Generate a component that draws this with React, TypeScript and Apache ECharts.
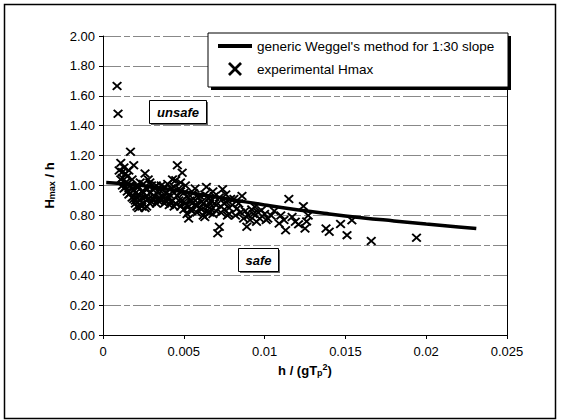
import React, { useEffect, useRef } from "react";
import * as echarts from "echarts";

const xTicks = [0, 0.005, 0.01, 0.015, 0.02, 0.025];
const yTicks = [0, 0.2, 0.4, 0.6, 0.8, 1.0, 1.2, 1.4, 1.6, 1.8, 2.0];

const weggelX = [0.0002, 0.002, 0.004, 0.006, 0.008, 0.010, 0.012, 0.014, 0.016, 0.018, 0.020, 0.022, 0.0231];
const weggelY = [1.02, 1.005, 0.975, 0.94, 0.905, 0.87, 0.838, 0.81, 0.785, 0.763, 0.742, 0.723, 0.712];

const experimentalPoints: [number, number][] = [
  [0.00087, 1.666], [0.00093, 1.48],
  [0.0010, 1.10], [0.0011, 1.15], [0.0012, 1.05], [0.0012, 1.00], [0.0013, 1.12], [0.0013, 0.98],
  [0.0014, 1.08], [0.0014, 1.02], [0.0015, 0.96], [0.0015, 1.06], [0.0016, 1.10], [0.0016, 0.94],
  [0.0017, 1.225], [0.0017, 1.00], [0.0018, 0.92], [0.0018, 1.04], [0.0019, 1.136], [0.0019, 0.97],
  [0.0020, 0.90], [0.0020, 0.88], [0.0021, 1.00], [0.0021, 0.86], [0.0022, 0.94], [0.0022, 0.85],
  [0.0023, 1.02], [0.0023, 0.90], [0.0024, 0.96], [0.0024, 0.86], [0.0025, 0.88], [0.0026, 1.08],
  [0.0026, 0.92], [0.0027, 0.98], [0.0027, 0.86], [0.0028, 1.04], [0.0028, 0.91], [0.0029, 0.95],
  [0.0030, 0.89], [0.0030, 1.00], [0.0031, 0.97], [0.0032, 0.93], [0.0033, 1.00], [0.0033, 0.88],
  [0.0034, 0.96], [0.0035, 0.92], [0.0036, 1.00], [0.0036, 0.90], [0.0037, 0.97], [0.0038, 0.88],
  [0.0039, 0.95], [0.0040, 1.01], [0.0040, 0.92], [0.0041, 0.87], [0.0042, 0.98], [0.0043, 1.04],
  [0.0043, 0.90], [0.0044, 0.95], [0.0045, 1.035], [0.0045, 0.88], [0.0046, 1.136], [0.0046, 0.93],
  [0.0047, 0.98], [0.0048, 0.86], [0.0049, 1.085], [0.0049, 0.90], [0.0050, 0.95], [0.0050, 0.84],
  [0.0051, 1.00], [0.0051, 0.88], [0.0052, 0.81], [0.0052, 0.93], [0.0053, 0.78], [0.0053, 0.86],
  [0.0054, 0.90], [0.0055, 0.83], [0.0056, 0.95], [0.0057, 0.98], [0.0057, 0.87], [0.0058, 0.82],
  [0.0059, 0.92], [0.0060, 0.85], [0.0061, 0.89], [0.0062, 0.80], [0.0063, 0.79], [0.0063, 0.94],
  [0.0064, 0.99], [0.0065, 0.86], [0.0066, 0.82], [0.0067, 0.90], [0.0068, 0.96], [0.0069, 0.88],
  [0.0070, 0.83], [0.0071, 0.68], [0.0072, 0.724], [0.0072, 0.92], [0.0073, 0.86], [0.0074, 0.975],
  [0.0075, 0.84], [0.0076, 0.89], [0.0077, 0.80], [0.0078, 0.81], [0.0080, 0.87], [0.0081, 0.91],
  [0.0083, 0.846], [0.0085, 0.82], [0.0086, 0.93], [0.0087, 0.78], [0.0089, 0.724], [0.0090, 0.80],
  [0.0092, 0.84], [0.0094, 0.857], [0.0095, 0.757], [0.0097, 0.78], [0.0098, 0.835], [0.0100, 0.81],
  [0.0102, 0.78], [0.0104, 0.80], [0.0106, 0.83], [0.0109, 0.746], [0.0110, 0.80], [0.0112, 0.77],
  [0.0113, 0.70], [0.0115, 0.909], [0.0117, 0.79], [0.0119, 0.757], [0.0121, 0.74], [0.0124, 0.862],
  [0.0125, 0.713], [0.0126, 0.76], [0.0127, 0.80], [0.0138, 0.713], [0.0140, 0.69], [0.0147, 0.742],
  [0.0151, 0.668], [0.0154, 0.768], [0.0166, 0.628], [0.0194, 0.65],
  [0.0011, 1.04], [0.0012, 1.09], [0.0014, 0.99], [0.0015, 1.01], [0.0017, 0.95], [0.0018, 0.98],
  [0.0019, 0.91], [0.0020, 0.95], [0.0021, 0.92], [0.0022, 0.99], [0.0023, 0.87], [0.0024, 0.92],
  [0.0025, 0.95], [0.0025, 1.01], [0.0026, 0.85], [0.0027, 0.93], [0.0029, 0.88], [0.0029, 1.02],
  [0.0031, 0.91], [0.0032, 0.99], [0.0034, 0.90], [0.0035, 0.97], [0.0037, 0.92], [0.0038, 0.99],
  [0.0039, 0.90], [0.0041, 0.94], [0.0042, 0.89], [0.0044, 0.99], [0.0044, 0.86], [0.0047, 0.90],
  [0.0048, 0.96], [0.0048, 1.02], [0.0050, 0.89], [0.0052, 0.87], [0.0054, 0.84], [0.0055, 0.88],
  [0.0056, 0.91], [0.0058, 0.87], [0.0060, 0.93], [0.0061, 0.84], [0.0062, 0.88], [0.0064, 0.83],
  [0.0065, 0.91], [0.0066, 0.88], [0.0067, 0.84], [0.0068, 0.81], [0.0069, 0.93], [0.0070, 0.87],
  [0.0073, 0.82], [0.0075, 0.88], [0.0076, 0.94], [0.0078, 0.85], [0.0079, 0.91], [0.0082, 0.80],
  [0.0084, 0.88], [0.0088, 0.83], [0.0091, 0.77], [0.0093, 0.81], [0.0096, 0.82], [0.0101, 0.77],
];

const lineName = "generic Weggel's method for 1:30 slope";
const scatterName = "experimental Hmax";

const FONT = "Arial, 'Liberation Sans', sans-serif";
const CROSS =
  "path://M0,1.4L1.4,0L5,3.6L8.6,0L10,1.4L6.4,5L10,8.6L8.6,10L5,6.4L1.4,10L0,8.6L3.6,5Z";
const BAR = "path://M0,0L34,0L34,4L0,4Z";

export default function App() {
  const ref = useRef<HTMLDivElement>(null);
  useEffect(() => {
    document.body.style.margin = "0";
    const chart = echarts.init(ref.current!, null, { renderer: "svg" });
    const option: any = {
      animation: false,
      backgroundColor: "#fff",
      grid: { left: 103, right: 56, top: 36, bottom: 85 },
      legend: {
        left: 218,
        top: 39,
        orient: "vertical",
        itemGap: 9,
        itemWidth: 34,
        itemHeight: 14,
        padding: 0,
        textStyle: { fontFamily: FONT, fontSize: 13.5, color: "#000", lineHeight: 14 },
        data: [
          { name: lineName, icon: BAR, itemStyle: { color: "#000" } },
          { name: scatterName, icon: CROSS, itemStyle: { color: "#000" } },
        ],
        z: 10,
      },
      xAxis: {
        type: "value",
        min: xTicks[0],
        max: xTicks[xTicks.length - 1],
        interval: 0.005,
        name: "{a|h / (gT}{sub|p}{sup|2}{a|)}",
        nameLocation: "middle",
        nameGap: 25,
        nameTextStyle: {
          rich: {
            a: { fontFamily: FONT, fontSize: 13, fontWeight: "bold", color: "#000" },
            sub: { fontFamily: FONT, fontSize: 9, fontWeight: "bold", color: "#000", verticalAlign: "bottom", padding: [6, 0, 0, 0] },
            sup: { fontFamily: FONT, fontSize: 9, fontWeight: "bold", color: "#000", verticalAlign: "top", padding: [0, 0, 6, 0] },
          },
        },
        axisLine: { show: true, lineStyle: { color: "#000", width: 1 } },
        axisTick: { show: true, length: 4, lineStyle: { color: "#000" } },
        axisLabel: { fontFamily: FONT, fontSize: 13, color: "#000", margin: 10 },
        splitLine: { show: false },
      },
      yAxis: [
        {
          type: "value",
          min: yTicks[0],
          max: yTicks[yTicks.length - 1],
          interval: 0.2,
          name: "{a|H}{sub|max}{a| / h}",
          nameLocation: "middle",
          nameGap: 47,
          nameRotate: 90,
          nameTextStyle: {
            rich: {
              a: { fontFamily: FONT, fontSize: 13, fontWeight: "bold", color: "#000" },
              sub: { fontFamily: FONT, fontSize: 9, fontWeight: "bold", color: "#000", padding: [5, 0, 0, 0] },
            },
          },
          axisLine: { show: true, lineStyle: { color: "#000", width: 1 } },
          axisTick: { show: true, length: 4, lineStyle: { color: "#000" } },
          axisLabel: {
            fontFamily: FONT,
            fontSize: 13,
            color: "#000",
            margin: 8,
            formatter: (v: number) => v.toFixed(2),
          },
          splitLine: { show: true, lineStyle: { color: "#888", width: 1, type: [18, 3, 6, 3] } },
        },
        {
          type: "value",
          position: "right",
          min: yTicks[0],
          max: yTicks[yTicks.length - 1],
          interval: 0.2,
          axisLine: { show: true, lineStyle: { color: "#000", width: 1 } },
          axisTick: { show: false },
          axisLabel: { show: false },
          splitLine: { show: false },
        },
      ],
      series: [
        {
          name: lineName,
          type: "line",
          data: weggelX.map((x, i) => [x, weggelY[i]]),
          showSymbol: false,
          symbol: "none",
          smooth: true,
          lineStyle: { color: "#000", width: 3.5 },
          itemStyle: { color: "#000" },
          z: 3,
        },
        {
          name: scatterName,
          type: "scatter",
          data: experimentalPoints,
          symbol: CROSS,
          symbolSize: [10, 9],
          itemStyle: { color: "#000", opacity: 1 },
          z: 4,
        },
      ],
      graphic: [
        {
          type: "rect",
          z: 100,
          silent: true,
          shape: { x: 4.5, y: 4.5, width: 551, height: 414 },
          style: { fill: "none", stroke: "#000", lineWidth: 1.5 },
        },
        {
          type: "rect",
          z: 5,
          shape: { x: 211, y: 36, width: 300, height: 54 },
          style: { fill: "#000" },
        },
        {
          type: "rect",
          z: 6,
          shape: { x: 208, y: 33, width: 300, height: 54 },
          style: { fill: "#fff", stroke: "#000", lineWidth: 1 },
        },
        {
          type: "rect",
          z: 6,
          shape: { x: 151, y: 102, width: 57, height: 23 },
          style: { fill: "#666" },
        },
        {
          type: "rect",
          z: 7,
          shape: { x: 149.5, y: 100.5, width: 57, height: 23 },
          style: { fill: "#fff", stroke: "#000", lineWidth: 1 },
        },
        {
          type: "text",
          z: 8,
          x: 178,
          y: 112,
          style: {
            text: "unsafe",
            fontFamily: FONT,
            fontSize: 13,
            fontWeight: "bold",
            fontStyle: "italic",
            fill: "#000",
            align: "center",
            verticalAlign: "middle",
          },
        },
        {
          type: "rect",
          z: 6,
          shape: { x: 240, y: 250, width: 40, height: 23 },
          style: { fill: "#666" },
        },
        {
          type: "rect",
          z: 7,
          shape: { x: 238.5, y: 248.5, width: 40, height: 23 },
          style: { fill: "#fff", stroke: "#000", lineWidth: 1 },
        },
        {
          type: "text",
          z: 8,
          x: 258.5,
          y: 260,
          style: {
            text: "safe",
            fontFamily: FONT,
            fontSize: 13,
            fontWeight: "bold",
            fontStyle: "italic",
            fill: "#000",
            align: "center",
            verticalAlign: "middle",
          },
        },
      ],
    };
    chart.setOption(option);
    return () => chart.dispose();
  }, []);
  return <div ref={ref} style={{ width: 563, height: 420 }} />;
}
